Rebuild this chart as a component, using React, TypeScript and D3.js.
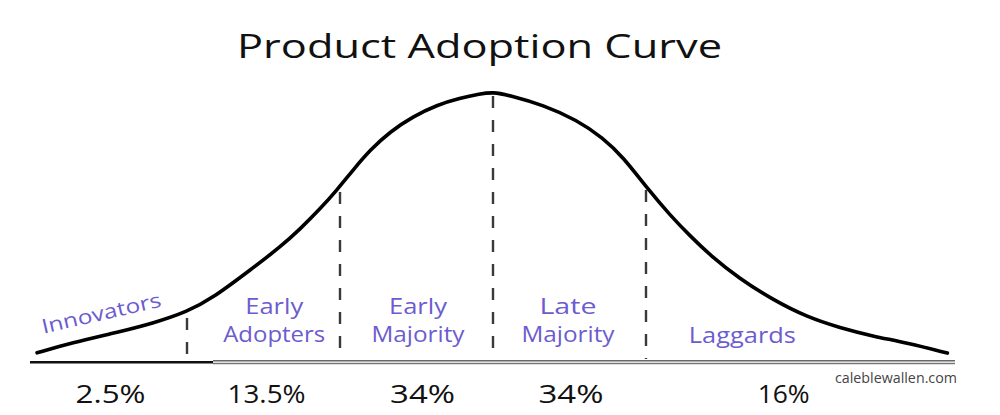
import React from "react";
import * as d3 from "d3";

// Curve points: x in standard deviations, y relative to peak
const curveX = [-2.98, -2.76, -2.44, -2.22, -2.0, -1.83, -1.57, -1.39, -1.26, -1.13, -1.02, -0.915, -0.804, -0.673, -0.523, -0.366, -0.216, -0.085, 0, 0.111, 0.327, 0.549, 0.719, 0.85, 1.007, 1.157, 1.288, 1.418, 1.61, 1.83, 2.05, 2.27, 2.48, 2.71, 2.97];
const curveY = [0.034, 0.07, 0.112, 0.144, 0.186, 0.237, 0.348, 0.426, 0.493, 0.567, 0.637, 0.711, 0.785, 0.853, 0.909, 0.952, 0.977, 0.993, 1.0, 0.987, 0.952, 0.896, 0.83, 0.759, 0.644, 0.544, 0.467, 0.396, 0.309, 0.23, 0.167, 0.126, 0.096, 0.07, 0.033];

// Segment boundaries (in σ) and the top of each dashed divider (relative height)
const boundaries = [-2, -1, 0, 1];
const boundaryTops = [0.163, 0.63, 0.985, 0.637];

// Segment labels
const segmentLines = [["Early", "Adopters"], ["Early", "Majority"], ["Late", "Majority"], ["Laggards"]];
const segmentCenters = [-1.43, -0.49, 0.49, 1.63];
const percentLabels = ["2.5%", "13.5%", "34%", "34%", "16%"];
const percentCenters = [-2.5, -1.48, -0.46, 0.51, 1.9];

const title = "Product Adoption Curve";
const credit = "caleblewallen.com";

const W = 1000;
const H = 415;
const FONT = "'Open Sans', 'Noto Sans', sans-serif";
const PURPLE = "#6c5ccf";

export default function App() {
  const x = d3.scaleLinear().domain([-3, 3]).range([34, 952]);
  const y = d3.scaleLinear().domain([0, 1]).range([362, 92]);
  const pts: [number, number][] = curveX.map((v, i) => [v, curveY[i]]);
  const line = d3
    .line<[number, number]>()
    .x((d) => x(d[0]))
    .y((d) => y(d[1]))
    .curve(d3.curveBasis);

  const textW: Record<string, number> = {
    Early: 58,
    Adopters: 102,
    Majority: 93,
    Late: 57,
    Laggards: 107,
  };
  const pctW: Record<string, number> = { "2.5%": 70, "13.5%": 78, "34%": 65, "16%": 52 };

  return (
    <svg width={W} height={H} style={{ display: "block", position: "absolute", left: 0, top: 0 }}>
      <rect width={W} height={H} fill="#fff" />
      <text
        x={479.5}
        y={58}
        textAnchor="middle"
        fontFamily={FONT}
        fontSize={33}
        textLength={485}
        lengthAdjust="spacingAndGlyphs"
        fill="#111"
      >
        {title}
      </text>

      {/* baseline */}
      <line x1={30} x2={213} y1={362.3} y2={362.3} stroke="#111" strokeWidth={2.6} />
      <line x1={213} x2={955} y1={360.8} y2={360.8} stroke="#666" strokeWidth={1.5} />
      <line x1={213} x2={955} y1={363.6} y2={363.6} stroke="#777" strokeWidth={1.5} />

      {/* dashed dividers */}
      {boundaries.map((b, i) => (
        <line
          key={i}
          x1={x(b)}
          x2={x(b)}
          y1={y(boundaryTops[i])}
          y2={359}
          stroke="#3a3a3a"
          strokeWidth={2.4}
          strokeDasharray="12 12"
        />
      ))}

      {/* curve */}
      <path d={line(pts) || ""} fill="none" stroke="#000" strokeWidth={3.6} strokeLinecap="round" strokeLinejoin="round" />

      {/* Innovators rotated label */}
      <text
        transform={`translate(${x(-2.55)},${320}) rotate(-13)`}
        textAnchor="middle"
        fontFamily={FONT}
        fontSize={20}
        textLength={122}
        lengthAdjust="spacingAndGlyphs"
        fill={PURPLE}
      >
        Innovators
      </text>

      {segmentLines.map((lines, i) =>
        lines.map((t, j) => {
          const single = lines.length === 1;
          const yy = single ? 343 : j === 0 ? 314 : 342;
          return (
            <text
              key={`${i}-${j}`}
              x={x(segmentCenters[i])}
              y={yy}
              textAnchor="middle"
              fontFamily={FONT}
              fontSize={21}
              textLength={textW[t]}
              lengthAdjust="spacingAndGlyphs"
              fill={PURPLE}
            >
              {t}
            </text>
          );
        })
      )}

      {percentLabels.map((p, i) => (
        <text
          key={i}
          x={x(percentCenters[i])}
          y={403}
          textAnchor="middle"
          fontFamily={FONT}
          fontSize={25}
          textLength={pctW[p]}
          lengthAdjust="spacingAndGlyphs"
          fill="#111"
        >
          {p}
        </text>
      ))}

      <text
        x={896}
        y={383}
        textAnchor="middle"
        fontFamily={FONT}
        fontSize={14}
        textLength={122}
        lengthAdjust="spacingAndGlyphs"
        fill="#444"
      >
        {credit}
      </text>
    </svg>
  );
}
